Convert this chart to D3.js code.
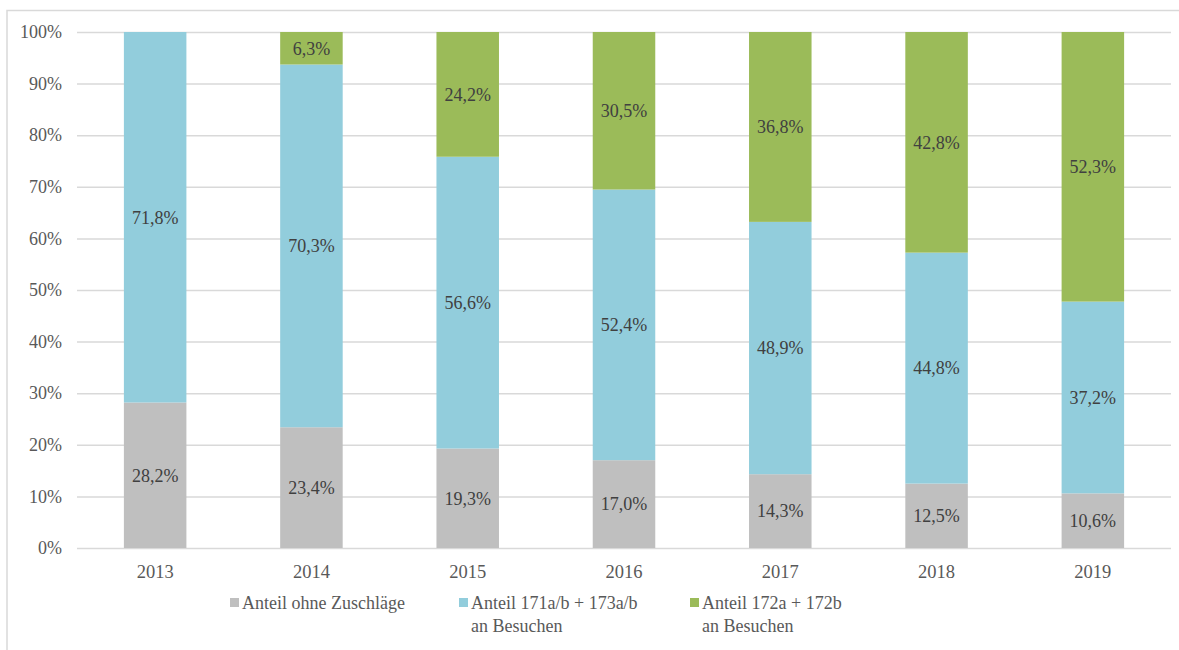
<!DOCTYPE html>
<html>
<head>
<meta charset="utf-8">
<script src="https://cdn.jsdelivr.net/npm/d3@7"></script>
<style>
  html, body { margin: 0; padding: 0; background: #fff; }
</style>
</head>
<body>
<svg id="chart" width="1179" height="650"></svg>
<script>
// Anteile je Jahr (in %)
const years = ["2013", "2014", "2015", "2016", "2017", "2018", "2019"];
const ohneZuschlaege = [28.2, 23.4, 19.3, 17.0, 14.3, 12.5, 10.6];
const anteil171_173 = [71.8, 70.3, 56.6, 52.4, 48.9, 44.8, 37.2];
const anteil172 = [0, 6.3, 24.2, 30.5, 36.8, 42.8, 52.3];
const yTicks = [0, 10, 20, 30, 40, 50, 60, 70, 80, 90, 100];

const seriesNames = ["Anteil ohne Zuschläge", "Anteil 171a/b + 173a/b\nan Besuchen", "Anteil 172a + 172b\nan Besuchen"];
const seriesColors = ["#bfbfbf", "#92cddc", "#9bbb59"];
const seriesValues = [ohneZuschlaege, anteil171_173, anteil172];

const FONT = "'Liberation Serif', 'Times New Roman', Times, serif";
const FS = "18px";

const svg = d3.select("#chart").style("font-family", FONT);
const W = 1179, H = 650;

// frame
svg.append("path")
  .attr("d", `M7,${H} L7,10.5 L${W},10.5`)
  .attr("fill", "none").attr("stroke", "#d9d9d9").attr("stroke-width", 1.5);

const plot = { left: 77, right: 1171, top: 32, bottom: 548 };

const x = d3.scaleBand().domain(years).range([plot.left, plot.right]).paddingInner(0.6).paddingOuter(0.3);
const y = d3.scaleLinear().domain([0, 100]).range([plot.bottom, plot.top]);

// gridlines + y-axis labels
const yAxis = d3.axisLeft(y).tickValues(yTicks).tickFormat(d => d + "%")
  .tickSize(-(plot.right - plot.left)).tickPadding(15);
const gy = svg.append("g").attr("transform", `translate(${plot.left},0)`).call(yAxis);
gy.attr("font-family", null).attr("font-size", null);
gy.select(".domain").remove();
gy.selectAll(".tick line").attr("stroke", "#d9d9d9").attr("stroke-width", 1.5);
gy.selectAll(".tick text").attr("fill", "#595959")
  .style("font-family", FONT).style("font-size", FS);

// stacked data (100% stacked: each year normalised to its total)
const table = years.map((yr, i) => {
  const total = seriesValues.reduce((s, arr) => s + arr[i], 0);
  const row = { year: yr };
  seriesValues.forEach((arr, k) => { row["s" + k] = arr[i] / total * 100; row["v" + k] = arr[i]; });
  return row;
});
const stack = d3.stack().keys(["s0", "s1", "s2"]);
const layers = stack(table);

const fmt = v => v.toFixed(1).replace(".", ",") + "%";

layers.forEach((layer, k) => {
  const g = svg.append("g");
  g.selectAll("rect").data(layer).join("rect")
    .attr("x", d => x(d.data.year))
    .attr("width", x.bandwidth())
    .attr("y", d => y(d[1]))
    .attr("height", d => y(d[0]) - y(d[1]))
    .attr("fill", seriesColors[k]);
  g.selectAll("text").data(layer.filter(d => d.data["v" + k] > 0)).join("text")
    .attr("x", d => x(d.data.year) + x.bandwidth() / 2)
    .attr("y", d => y((d[0] + d[1]) / 2))
    .attr("dy", "0.35em")
    .attr("text-anchor", "middle")
    .attr("fill", "#404040")
    .style("font-family", FONT)
    .style("font-size", FS)
    .text(d => fmt(d.data["v" + k]));
});

// x-axis labels
const xAxis = d3.axisBottom(x).tickSize(0).tickPadding(17);
const gx = svg.append("g").attr("transform", `translate(0,${plot.bottom})`).call(xAxis);
gx.attr("font-family", null).attr("font-size", null);
gx.select(".domain").remove();
gx.selectAll(".tick text").attr("fill", "#595959")
  .style("font-family", FONT).style("font-size", "18.5px");

// legend
const legendX = [230, 459, 690];
const legend = svg.append("g");
seriesNames.forEach((name, k) => {
  const item = legend.append("g").attr("transform", `translate(${legendX[k]},598)`);
  item.append("rect").attr("width", 9).attr("height", 9).attr("fill", seriesColors[k]);
  name.split("\n").forEach((line, j) => {
    item.append("text")
      .attr("x", 12).attr("y", 11 + j * 23)
      .attr("fill", "#595959")
      .style("font-family", FONT)
      .style("font-size", FS)
      .text(line);
  });
});
</script>
</body>
</html>
